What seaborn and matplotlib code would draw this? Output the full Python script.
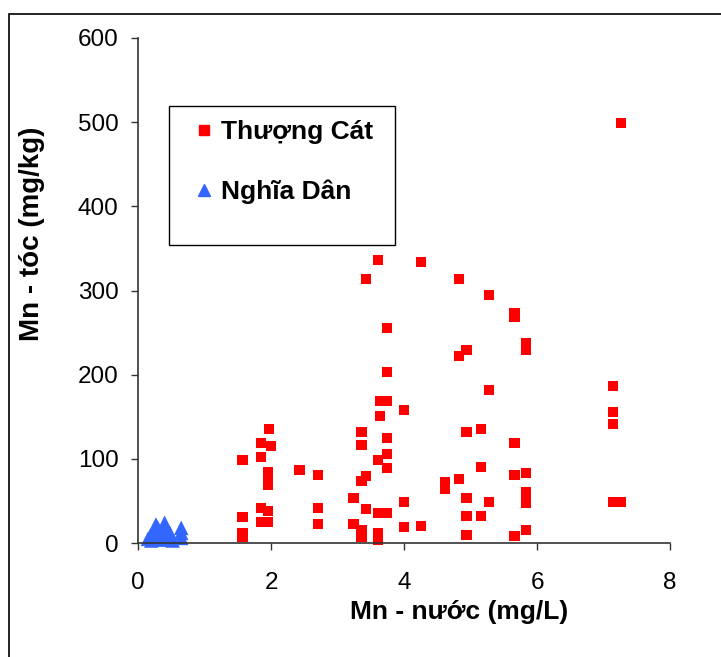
import matplotlib
matplotlib.use("Agg")
import matplotlib.pyplot as plt
import seaborn as sns
import pandas as pd
from matplotlib.patches import Rectangle
from matplotlib.lines import Line2D

# Thượng Cát (red squares)
tc_x = [1.57, 1.57, 1.57, 1.57,
        1.85, 1.85, 1.85, 1.85,
        1.95, 1.95, 1.95, 1.95, 1.95,
        1.97, 2.00, 2.43,
        2.71, 2.71, 2.71,
        3.24, 3.24,
        3.36, 3.36, 3.36, 3.36, 3.36,
        3.43, 3.43, 3.43,
        3.61, 3.61, 3.61, 3.61, 3.61,
        3.64, 3.64,
        3.74, 3.74, 3.74, 3.74, 3.74, 3.74, 3.74,
        4.00, 4.00, 4.00,
        4.26, 4.26,
        4.62, 4.62,
        4.83, 4.83, 4.83,
        4.94, 4.94, 4.94, 4.94, 4.94,
        5.16, 5.16, 5.16,
        5.28, 5.28, 5.28,
        5.66, 5.66, 5.66, 5.66, 5.66,
        5.83, 5.83, 5.83, 5.83, 5.83, 5.83, 5.83,
        7.14, 7.14, 7.14, 7.14,
        7.26, 7.26]
tc_y = [98.6, 30.9, 11.9, 7.1,
        118.4, 101.8, 41.9, 25.0,
        84.7, 76.8, 68.9, 38.0, 25.0,
        135.4, 114.9, 86.7,
        81.2, 41.6, 22.9,
        53.1, 22.6,
        131.5, 116.8, 73.7, 15.4, 7.5,
        313.7, 79.2, 40.0,
        336.2, 98.2, 36.0, 11.5, 3.6,
        169.1, 150.5,
        255.4, 203.2, 169.1, 124.4, 105.7, 88.7, 36.0,
        158.0, 49.1, 18.6,
        334.2, 20.6,
        72.8, 63.8,
        313.7, 221.8, 75.7,
        229.3, 131.9, 53.1, 32.1, 9.5,
        135.4, 90.3, 32.1,
        294.6, 182.1, 49.1,
        273.6, 268.1, 118.4, 80.8, 8.3,
        238.0, 229.3, 82.8, 61.0, 53.1, 47.2, 15.4,
        186.5, 156.0, 141.4, 49.1,
        499.4, 49.1]

# Nghĩa Dân (blue triangles)
nd_x = [0.15, 0.18, 0.20, 0.22, 0.25, 0.27, 0.28, 0.30, 0.32, 0.35,
        0.38, 0.40, 0.42, 0.45, 0.48, 0.50, 0.52, 0.65, 0.65, 0.65]
nd_y = [5, 8, 3, 12, 15, 22, 10, 18, 6, 4,
        14, 24, 20, 8, 12, 6, 3, 18, 12, 6]

series = ["Thượng Cát", "Nghĩa Dân"]
x_ticks = [0, 2, 4, 6, 8]
y_ticks = [0, 100, 200, 300, 400, 500, 600]

df = pd.DataFrame({
    "x": tc_x + nd_x,
    "y": tc_y + nd_y,
    "site": [series[0]] * len(tc_x) + [series[1]] * len(nd_x),
})

sns.set_style("white")
plt.rcParams["font.family"] = ["Liberation Sans", "DejaVu Sans"]
plt.rcParams["text.color"] = "black"
plt.rcParams["axes.labelcolor"] = "black"
plt.rcParams["xtick.color"] = "black"
plt.rcParams["ytick.color"] = "black"

fig = plt.figure(figsize=(7.21, 6.57), dpi=100)
ax = fig.add_axes([138 / 721, 1 - 543 / 657, 532 / 721, 505 / 657])

sns.scatterplot(data=df, x="x", y="y", hue="site", style="site",
                palette={series[0]: "#FF0000", series[1]: "#3366FF"},
                markers={series[0]: "s", series[1]: "^"},
                size="site", sizes={series[0]: 55, series[1]: 110},
                linewidth=0, ax=ax, clip_on=False, legend=False)

ax.set_xlim(0, 8)
ax.set_ylim(0, 600)
ax.set_xticks(x_ticks)
ax.set_yticks(y_ticks)
ax.tick_params(axis="both", direction="out", length=5, width=1, color="#333333",
               labelcolor="black", labelsize=17.5, bottom=True, left=True)
ax.tick_params(axis="x", pad=16)
ax.tick_params(axis="y", pad=9)
for s in ["top", "right"]:
    ax.spines[s].set_visible(False)
for s in ["left", "bottom"]:
    ax.spines[s].set_color("#333333")
    ax.spines[s].set_linewidth(1.2)

ax.set_xlabel("Mn - nước (mg/L)", fontsize=19, fontweight="bold", color="black")
ax.set_ylabel("Mn - tóc (mg/kg)", fontsize=20, fontweight="bold", color="black")
ax.xaxis.set_label_coords((459 - 138) / 532, (543 - 612) / 505)
ax.yaxis.set_label_coords((32 - 138) / 532, (543 - 234) / 505)
ax.xaxis.label.set_va("center")
ax.yaxis.label.set_va("center")

handles = [Line2D([], [], marker="s", color="#FF0000", linestyle="none", markersize=7),
           Line2D([], [], marker="^", color="#3366FF", linestyle="none", markersize=8)]
leg = ax.legend(handles, series, loc="upper left",
                bbox_to_anchor=((193 - 138) / 532, (543 - 120) / 505),
                prop={"size": 19, "weight": "bold"}, frameon=False,
                labelspacing=1.34, borderpad=0,
                handlelength=0.8, handletextpad=0.25, borderaxespad=0)
for t in leg.get_texts():
    t.set_color("black")

ax.add_patch(Rectangle(((169 - 138) / 532, (543 - 245) / 505),
                       (395 - 169) / 532, (245 - 106) / 505,
                       transform=ax.transAxes, fill=False, edgecolor="black",
                       linewidth=1.0, zorder=5))

fig.patches.append(Rectangle((9 / 721, -0.1), 2.0, (657 - 14) / 657 + 0.1,
                             transform=fig.transFigure, fill=False,
                             edgecolor="black", linewidth=1.2))

fig.savefig("out.png", dpi=100)
